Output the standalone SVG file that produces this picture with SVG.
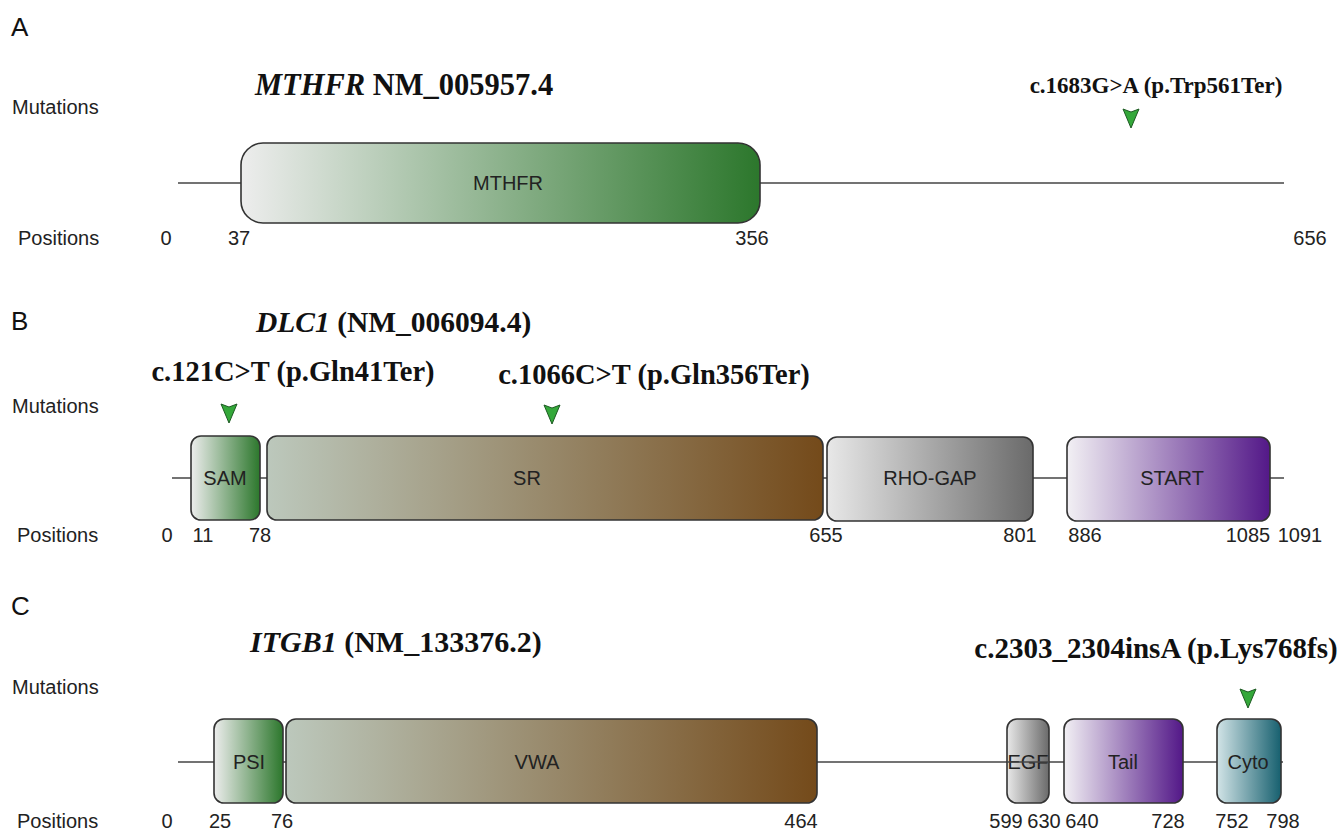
<svg xmlns="http://www.w3.org/2000/svg" width="1338" height="830" viewBox="0 0 1338 830">
  <style>
    .panel { font-family: "Liberation Sans", Arial, sans-serif; font-size: 26px; fill: #111; }
    .rowlab { font-family: "Liberation Sans", Arial, sans-serif; font-size: 20px; fill: #222; }
    .pos { font-family: "Liberation Sans", Arial, sans-serif; font-size: 20px; fill: #222; text-anchor: middle; }
    .dlab { font-family: "Liberation Sans", Arial, sans-serif; font-size: 20px; fill: #222; text-anchor: middle; }
    .title { font-family: "Liberation Serif", "Times New Roman", serif; font-size: 30px; font-weight: bold; fill: #111; }
    .mut { font-family: "Liberation Serif", "Times New Roman", serif; font-size: 28.5px; font-weight: bold; fill: #111; text-anchor: middle; }
    .backbone { stroke: #444; stroke-width: 1.6; fill: none; }
    .dom { stroke: #333; stroke-width: 1.6; }
    .tri { fill: #34a83a; stroke: #1d5a22; stroke-width: 1; }
  </style>
  <defs>
    <linearGradient id="gGreen" x1="0" y1="0" x2="1" y2="0">
      <stop offset="0" stop-color="#ededed"/>
      <stop offset="1" stop-color="#2c772c"/>
    </linearGradient>
    <linearGradient id="gBrown" x1="0" y1="0" x2="1" y2="0">
      <stop offset="0" stop-color="#bcc8bc"/>
      <stop offset="1" stop-color="#744a1a"/>
    </linearGradient>
    <linearGradient id="gGray" x1="0" y1="0" x2="1" y2="0">
      <stop offset="0" stop-color="#e8e8e8"/>
      <stop offset="1" stop-color="#6a6a6a"/>
    </linearGradient>
    <linearGradient id="gPurple" x1="0" y1="0" x2="1" y2="0">
      <stop offset="0" stop-color="#f2f0f4"/>
      <stop offset="1" stop-color="#531888"/>
    </linearGradient>
    <linearGradient id="gTeal" x1="0" y1="0" x2="1" y2="0">
      <stop offset="0" stop-color="#d2e4e7"/>
      <stop offset="1" stop-color="#17606f"/>
    </linearGradient>
    <path id="marker" class="tri" d="M -8 0 L 0 3 L 8 0 L 0 19 Z"/>
  </defs>

  <!-- Panel A: MTHFR -->
  <g id="panelA">
    <text class="panel" x="11" y="36">A</text>
    <text class="rowlab" x="12" y="114">Mutations</text>
    <text class="rowlab" x="18" y="245">Positions</text>
    <text class="title" x="255" y="95" style="font-size:30.5px"><tspan font-style="italic">MTHFR</tspan> NM_005957.4</text>
  </g>
  <g id="connectorsA">
    <line class="backbone" x1="178" y1="183" x2="1284" y2="183"/>
  </g>
  <g id="A_MTHFR">
    <rect class="dom" x="241" y="143" width="519" height="80" rx="22" fill="url(#gGreen)"/>
    <text class="dlab" x="508" y="190">MTHFR</text>
  </g>
  <g id="A_mut1">
    <text class="mut" x="1156" y="93" style="font-size:23px">c.1683G&gt;A (p.Trp561Ter)</text>
    <use href="#marker" x="1131" y="109"/>
  </g>
  <g id="A_positions">
    <text class="pos" x="166" y="245">0</text>
    <text class="pos" x="239" y="245">37</text>
    <text class="pos" x="752" y="245">356</text>
    <text class="pos" x="1310" y="245">656</text>
  </g>

  <!-- Panel B: DLC1 -->
  <g id="panelB">
    <text class="panel" x="11" y="330">B</text>
    <text class="rowlab" x="12" y="413">Mutations</text>
    <text class="rowlab" x="17" y="542">Positions</text>
    <text class="title" x="256" y="332" style="font-size:29.5px"><tspan font-style="italic">DLC1</tspan> (NM_006094.4)</text>
  </g>
  <g id="connectorsB">
    <line class="backbone" x1="172" y1="478" x2="1284" y2="478"/>
  </g>
  <g id="B_SAM">
    <rect class="dom" x="191" y="436" width="69" height="84" rx="10" fill="url(#gGreen)"/>
    <text class="dlab" x="225" y="485">SAM</text>
  </g>
  <g id="B_SR">
    <rect class="dom" x="267" y="436" width="556" height="84" rx="10" fill="url(#gBrown)"/>
    <text class="dlab" x="527" y="485">SR</text>
  </g>
  <g id="B_RHOGAP">
    <rect class="dom" x="827" y="437" width="206" height="84" rx="10" fill="url(#gGray)"/>
    <text class="dlab" x="930" y="485">RHO-GAP</text>
  </g>
  <g id="B_START">
    <rect class="dom" x="1067" y="437" width="203" height="84" rx="10" fill="url(#gPurple)"/>
    <text class="dlab" x="1172" y="485">START</text>
  </g>
  <g id="B_mut1">
    <text class="mut" x="293" y="381">c.121C&gt;T (p.Gln41Ter)</text>
    <use href="#marker" x="229" y="404"/>
  </g>
  <g id="B_mut2">
    <text class="mut" x="654" y="384">c.1066C&gt;T (p.Gln356Ter)</text>
    <use href="#marker" x="552" y="405"/>
  </g>
  <g id="B_positions">
    <text class="pos" x="167" y="542">0</text>
    <text class="pos" x="203" y="542">11</text>
    <text class="pos" x="260" y="542">78</text>
    <text class="pos" x="826" y="542">655</text>
    <text class="pos" x="1020" y="542">801</text>
    <text class="pos" x="1085" y="542">886</text>
    <text class="pos" x="1248" y="542">1085</text>
    <text class="pos" x="1300" y="542">1091</text>
  </g>

  <!-- Panel C: ITGB1 -->
  <g id="panelC">
    <text class="panel" x="11" y="615">C</text>
    <text class="rowlab" x="12" y="694">Mutations</text>
    <text class="rowlab" x="17" y="828">Positions</text>
    <text class="title" x="250" y="652"><tspan font-style="italic">ITGB1</tspan> (NM_133376.2)</text>
  </g>
  <g id="connectorsC">
    <line class="backbone" x1="178" y1="762" x2="1283" y2="762"/>
  </g>
  <g id="C_PSI">
    <rect class="dom" x="214" y="719" width="69" height="84" rx="10" fill="url(#gGreen)"/>
    <text class="dlab" x="249" y="769">PSI</text>
  </g>
  <g id="C_VWA">
    <rect class="dom" x="286" y="719" width="531" height="84" rx="10" fill="url(#gBrown)"/>
    <text class="dlab" x="537" y="769">VWA</text>
  </g>
  <g id="C_EGF">
    <rect class="dom" x="1007" y="719" width="42" height="84" rx="10" fill="url(#gGray)"/>
    <text class="dlab" x="1028" y="769">EGF</text>
    <line class="backbone" x1="1007" y1="762" x2="1049" y2="762"/>
  </g>
  <g id="C_Tail">
    <rect class="dom" x="1064" y="719" width="119" height="84" rx="10" fill="url(#gPurple)"/>
    <text class="dlab" x="1123" y="769">Tail</text>
  </g>
  <g id="C_Cyto">
    <rect class="dom" x="1217" y="719" width="64" height="84" rx="10" fill="url(#gTeal)"/>
    <text class="dlab" x="1248" y="769">Cyto</text>
  </g>
  <g id="C_mut1">
    <text class="mut" x="1156" y="658" style="font-size:29px">c.2303_2304insA (p.Lys768fs)</text>
    <use href="#marker" x="1248" y="689"/>
  </g>
  <g id="C_positions">
    <text class="pos" x="167" y="828">0</text>
    <text class="pos" x="220" y="828">25</text>
    <text class="pos" x="282" y="828">76</text>
    <text class="pos" x="801" y="828">464</text>
    <text class="pos" x="1006" y="828">599</text>
    <text class="pos" x="1044" y="828">630</text>
    <text class="pos" x="1082" y="828">640</text>
    <text class="pos" x="1168" y="828">728</text>
    <text class="pos" x="1232" y="828">752</text>
    <text class="pos" x="1283" y="828">798</text>
  </g>
</svg>
